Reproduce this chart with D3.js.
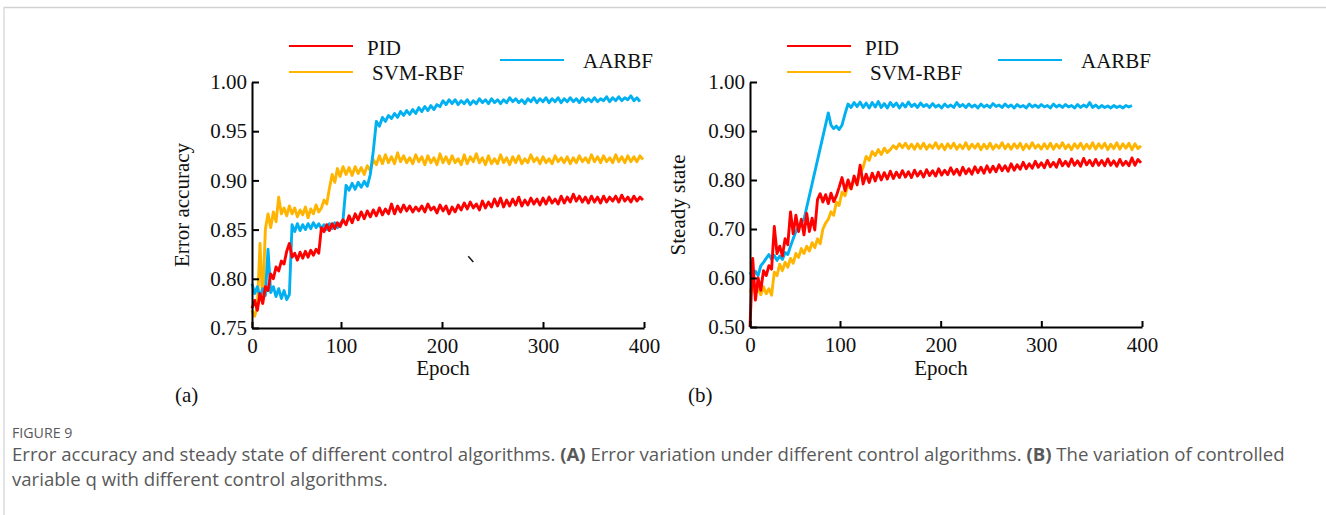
<!DOCTYPE html>
<html>
<head>
<meta charset="utf-8">
<script src="https://cdn.jsdelivr.net/npm/d3@7"></script>
<style>
body { margin: 0; background: #fff; }
.caption text { font-family: "Open Sans", sans-serif; fill: #595959; }
</style>
</head>
<body>
<svg id="page" width="1326" height="515"></svg>
<script>
// sampling grid of the traces (every 3rd epoch)
var epochs = d3.range(0, 400, 3);
var epochTicks = [0, 100, 200, 300, 400];
var accTicks = [0.75, 0.80, 0.85, 0.90, 0.95, 1.00];
var steadyTicks = [0.50, 0.60, 0.70, 0.80, 0.90, 1.00];
var legendNames = ["PID", "SVM-RBF", "AARBF"];

// (a) error accuracy
var accPID = [0.770,0.778,0.768,0.785,0.775,0.792,0.788,0.805,0.800,0.812,
    0.808,0.818,0.815,0.828,0.836,0.822,0.826,0.819,0.827,0.821,
    0.828,0.822,0.829,0.824,0.830,0.826,0.852,0.848,0.855,0.849,
    0.856,0.851,0.857,0.853,0.860,0.855,0.864,0.857,0.866,0.860,
    0.868,0.861,0.869,0.863,0.870,0.864,0.872,0.865,0.871,0.866,
    0.876,0.866,0.874,0.868,0.875,0.869,0.874,0.868,0.873,0.869,
    0.874,0.868,0.876,0.870,0.873,0.867,0.875,0.869,0.874,0.866,
    0.873,0.868,0.875,0.870,0.877,0.871,0.878,0.872,0.876,0.870,
    0.879,0.872,0.878,0.873,0.881,0.874,0.882,0.873,0.880,0.874,
    0.881,0.875,0.883,0.874,0.880,0.875,0.882,0.876,0.881,0.875,
    0.882,0.876,0.883,0.877,0.881,0.876,0.884,0.877,0.883,0.878,
    0.886,0.879,0.884,0.878,0.883,0.877,0.884,0.878,0.883,0.877,
    0.884,0.878,0.883,0.879,0.884,0.878,0.885,0.879,0.883,0.878,
    0.884,0.879,0.883,0.880];
var accSVM = [0.768,0.762,0.772,0.836,0.775,0.850,0.866,0.852,0.868,0.858,
    0.883,0.866,0.872,0.864,0.874,0.866,0.872,0.863,0.870,0.865,
    0.873,0.862,0.871,0.866,0.875,0.868,0.872,0.880,0.876,0.892,
    0.906,0.898,0.912,0.904,0.914,0.906,0.913,0.905,0.914,0.907,
    0.913,0.906,0.915,0.910,0.921,0.916,0.925,0.917,0.926,0.918,
    0.924,0.917,0.928,0.919,0.925,0.918,0.923,0.917,0.926,0.919,
    0.924,0.916,0.925,0.918,0.923,0.916,0.927,0.918,0.924,0.917,
    0.925,0.918,0.922,0.916,0.926,0.917,0.924,0.919,0.927,0.918,
    0.923,0.916,0.925,0.917,0.922,0.917,0.926,0.918,0.923,0.916,
    0.924,0.918,0.925,0.917,0.922,0.918,0.926,0.919,0.923,0.917,
    0.924,0.918,0.922,0.917,0.925,0.919,0.923,0.918,0.924,0.917,
    0.923,0.918,0.925,0.919,0.923,0.918,0.926,0.919,0.924,0.918,
    0.925,0.919,0.923,0.918,0.926,0.919,0.924,0.918,0.925,0.919,
    0.924,0.919,0.925,0.921];
var accAARBF = [0.795,0.785,0.792,0.781,0.790,0.783,0.830,0.786,0.792,0.782,
    0.790,0.780,0.788,0.779,0.784,0.855,0.848,0.856,0.849,0.855,
    0.850,0.856,0.851,0.857,0.852,0.856,0.851,0.855,0.850,0.856,
    0.851,0.857,0.852,0.856,0.860,0.895,0.890,0.897,0.891,0.898,
    0.893,0.899,0.894,0.906,0.930,0.960,0.955,0.964,0.960,0.966,
    0.963,0.968,0.964,0.970,0.966,0.971,0.967,0.972,0.968,0.974,
    0.970,0.975,0.971,0.976,0.972,0.977,0.975,0.981,0.977,0.982,
    0.978,0.982,0.977,0.981,0.978,0.982,0.977,0.981,0.978,0.983,
    0.979,0.982,0.978,0.983,0.979,0.982,0.978,0.982,0.979,0.984,
    0.980,0.983,0.979,0.982,0.978,0.983,0.980,0.984,0.979,0.983,
    0.980,0.984,0.979,0.983,0.980,0.984,0.979,0.983,0.980,0.984,
    0.980,0.983,0.979,0.984,0.980,0.983,0.980,0.984,0.980,0.983,
    0.981,0.985,0.980,0.984,0.981,0.985,0.981,0.984,0.982,0.986,
    0.981,0.984,0.980];

// (b) steady state
var stPID = [0.500,0.640,0.555,0.600,0.575,0.615,0.605,0.625,0.618,0.705,
    0.650,0.665,0.645,0.680,0.668,0.735,0.690,0.728,0.695,0.720,
    0.688,0.732,0.695,0.722,0.698,0.760,0.772,0.755,0.770,0.752,
    0.773,0.756,0.768,0.785,0.805,0.778,0.800,0.782,0.808,0.790,
    0.830,0.792,0.812,0.795,0.814,0.798,0.816,0.800,0.815,0.802,
    0.818,0.803,0.816,0.805,0.819,0.806,0.817,0.805,0.820,0.808,
    0.818,0.806,0.821,0.809,0.819,0.808,0.823,0.810,0.820,0.811,
    0.825,0.812,0.822,0.810,0.826,0.813,0.823,0.812,0.827,0.815,
    0.826,0.814,0.829,0.816,0.828,0.817,0.831,0.819,0.829,0.818,
    0.833,0.820,0.831,0.822,0.836,0.823,0.833,0.824,0.838,0.826,
    0.835,0.825,0.840,0.827,0.836,0.826,0.842,0.829,0.838,0.828,
    0.843,0.830,0.839,0.828,0.844,0.831,0.840,0.829,0.842,0.830,
    0.840,0.829,0.843,0.830,0.839,0.828,0.842,0.830,0.838,0.829,
    0.845,0.830,0.842,0.835];
var stSVM = [0.570,0.585,0.568,0.580,0.566,0.582,0.568,0.578,0.565,0.612,
    0.605,0.628,0.615,0.632,0.622,0.640,0.630,0.650,0.642,0.660,
    0.650,0.665,0.655,0.672,0.662,0.680,0.670,0.700,0.712,0.720,
    0.735,0.728,0.755,0.748,0.775,0.768,0.790,0.782,0.800,0.795,
    0.812,0.826,0.848,0.840,0.858,0.850,0.862,0.852,0.865,0.856,
    0.862,0.870,0.864,0.874,0.866,0.875,0.864,0.873,0.863,0.874,
    0.864,0.875,0.863,0.872,0.865,0.876,0.864,0.873,0.862,0.874,
    0.865,0.875,0.863,0.872,0.864,0.876,0.863,0.873,0.865,0.874,
    0.862,0.873,0.864,0.875,0.863,0.872,0.865,0.876,0.864,0.873,
    0.863,0.874,0.865,0.875,0.862,0.873,0.864,0.876,0.865,0.872,
    0.863,0.874,0.864,0.875,0.863,0.873,0.865,0.876,0.864,0.872,
    0.862,0.874,0.865,0.875,0.863,0.873,0.864,0.876,0.863,0.874,
    0.865,0.875,0.862,0.873,0.864,0.876,0.863,0.874,0.865,0.875,
    0.862,0.874,0.864,0.870];
// null = no reading (straight ramp in the original between ~60 and ~87)
var stAARBF = [0.612,0.603,0.614,0.605,0.625,0.632,0.640,0.648,0.638,0.646,
    0.636,0.645,0.638,0.652,0.648,0.665,0.680,0.695,0.705,0.712,
    0.720,null,null,null,null,null,null,null,null,0.937,
    0.912,0.905,0.910,0.903,0.912,0.935,0.955,0.948,0.958,0.950,
    0.959,0.948,0.957,0.947,0.958,0.949,0.960,0.948,0.956,0.947,
    0.958,0.950,0.957,0.947,0.956,0.949,0.959,0.950,0.955,0.948,
    0.957,0.950,0.954,0.948,0.956,0.949,0.953,0.947,0.955,0.949,
    0.953,0.948,0.958,0.950,0.954,0.948,0.955,0.949,0.953,0.947,
    0.955,0.949,0.953,0.948,0.956,0.950,0.953,0.948,0.955,0.949,
    0.953,0.947,0.954,0.949,0.952,0.947,0.955,0.949,0.953,0.948,
    0.954,0.949,0.952,0.947,0.955,0.949,0.953,0.948,0.954,0.949,
    0.952,0.947,0.954,0.948,0.953,0.949,0.958,0.948,0.953,0.947,
    0.952,0.948,0.951,0.947,0.952,0.948,0.951,0.947,0.952,0.949,
    0.952];

// small stray stroke that sits inside panel (a) of the original
var strayMark = [[226, 0.823], [231, 0.817]];

var colors = {"PID": "#ff0000", "SVM-RBF": "#ffb400", "AARBF": "#00b0f0"};
var serif = "'Liberation Serif', 'Times New Roman', serif";

var page = d3.select("#page");

/*
 * LineChart - one panel of the figure
 * @param _parent   -- d3 selection to draw into
 * @param _opts     -- placement and axis settings
 * @param _series   -- {name, values} in drawing order
 */
LineChart = function(_parent, _opts, _series) {
    this.parent = _parent;
    this.opts = _opts;
    this.series = _series;
    this.initVis();
}

LineChart.prototype.initVis = function() {
    var vis = this;
    var o = vis.opts;

    vis.svg = vis.parent.append("g")
        .attr("transform", "translate(" + o.left + ",0)");

    // the original x axis is a bit compressed between 0 and 100
    vis.x = d3.scaleLinear().domain([0, 100, 400]).range([0, o.firstTick, o.width]);
    vis.y = d3.scaleLinear().domain([o.yTicks[0], o.yTicks[o.yTicks.length - 1]]).range([o.bottom, o.top]);

    vis.line = d3.line()
        .x(function(d) { return vis.x(d[0]); })
        .y(function(d) { return vis.y(d[1]); });

    vis.updateVis();
}

LineChart.prototype.updateVis = function() {
    var vis = this;
    var o = vis.opts;

    // traces
    vis.series.forEach(function(s) {
        var pts = [];
        s.values.forEach(function(v, i) {
            if (v !== null) pts.push([epochs[i], v]);
        });
        vis.svg.append("path")
            .datum(pts)
            .attr("fill", "none")
            .attr("stroke", colors[s.name])
            .attr("stroke-width", 2.9)
            .attr("stroke-linejoin", "round")
            .attr("d", vis.line);
    });

    // axes, ticks pointing inwards
    var yAxis = d3.axisLeft(vis.y)
        .tickValues(o.yTicks)
        .tickFormat(d3.format(".2f"))
        .tickSizeInner(-7).tickSizeOuter(0).tickPadding(5);
    var xAxis = d3.axisBottom(vis.x)
        .tickValues(epochTicks)
        .tickSizeInner(-6).tickSizeOuter(0).tickPadding(10);

    var gy = vis.svg.append("g").call(yAxis);
    var gx = vis.svg.append("g")
        .attr("transform", "translate(0," + o.bottom + ")")
        .call(xAxis);

    [gx, gy].forEach(function(g) {
        g.attr("font-family", serif).attr("font-size", 21);
        g.select(".domain").attr("stroke", "#000").attr("stroke-width", 2);
        g.selectAll(".tick line").attr("stroke", "#000").attr("stroke-width", 2);
        g.selectAll(".tick text").attr("fill", "#111");
    });

    vis.svg.append("text")
        .attr("x", o.width / 2 - 5)
        .attr("y", 375)
        .attr("text-anchor", "middle")
        .attr("font-family", serif).attr("font-size", 21).attr("fill", "#111")
        .text("Epoch");

    vis.svg.append("text")
        .attr("transform", "translate(" + o.titleX + ",205) rotate(-90)")
        .attr("text-anchor", "middle")
        .attr("font-family", serif).attr("font-size", 21).attr("fill", "#111")
        .text(o.title);

    vis.svg.append("text")
        .attr("x", o.panelX)
        .attr("y", 402)
        .attr("font-family", serif).attr("font-size", 21).attr("fill", "#111")
        .text(o.panel);

    // legend
    var legPos = [
        {lx: 37, tx: 115, ly: 46, ty: 55},
        {lx: 37, tx: 120, ly: 72, ty: 80},
        {lx: 248, tx: 331, ly: 60, ty: 68}
    ];
    legendNames.forEach(function(name, i) {
        var p = legPos[i];
        vis.svg.append("line")
            .attr("x1", p.lx).attr("x2", p.lx + 64)
            .attr("y1", p.ly).attr("y2", p.ly)
            .attr("stroke", colors[name]).attr("stroke-width", 2);
        vis.svg.append("text")
            .attr("x", p.tx).attr("y", p.ty)
            .attr("font-family", serif).attr("font-size", 21).attr("fill", "#111")
            .text(name);
    });
}

var chartA = new LineChart(page, {
    left: 252, width: 392, firstTick: 89, top: 82, bottom: 328,
    yTicks: accTicks, title: "Error accuracy", titleX: -63, panel: "(a)", panelX: -77
}, [
    {name: "SVM-RBF", values: accSVM},
    {name: "AARBF", values: accAARBF},
    {name: "PID", values: accPID}
]);

chartA.svg.append("path")
    .datum(strayMark)
    .attr("fill", "none").attr("stroke", "#222").attr("stroke-width", 1.6)
    .attr("d", chartA.line);

var chartB = new LineChart(page, {
    left: 750, width: 392, firstTick: 90, top: 82, bottom: 327,
    yTicks: steadyTicks, title: "Steady state", titleX: -65, panel: "(b)", panelX: -62
}, [
    {name: "SVM-RBF", values: stSVM},
    {name: "AARBF", values: stAARBF},
    {name: "PID", values: stPID}
]);

// page frame
page.append("line").attr("x1", 4).attr("x2", 1326).attr("y1", 7.5).attr("y2", 7.5)
    .attr("stroke", "#d2d2d2").attr("stroke-width", 1.5);
page.append("line").attr("x1", 4).attr("x2", 4).attr("y1", 7).attr("y2", 515)
    .attr("stroke", "#d2d2d2").attr("stroke-width", 1.2);

// caption
var cap = page.append("g").attr("class", "caption");
cap.append("text").attr("x", 12).attr("y", 438).attr("font-size", 14.2).text("FIGURE 9");
var l1 = cap.append("text").attr("x", 12).attr("y", 461).attr("font-size", 18.6);
l1.append("tspan").text("Error accuracy and steady state of different control algorithms. ");
l1.append("tspan").attr("font-weight", 700).text("(A)");
l1.append("tspan").text(" Error variation under different control algorithms. ");
l1.append("tspan").attr("font-weight", 700).text("(B)");
l1.append("tspan").text(" The variation of controlled");
cap.append("text").attr("x", 12).attr("y", 486).attr("font-size", 18.6)
    .text("variable q with different control algorithms.");
</script>
</body>
</html>
